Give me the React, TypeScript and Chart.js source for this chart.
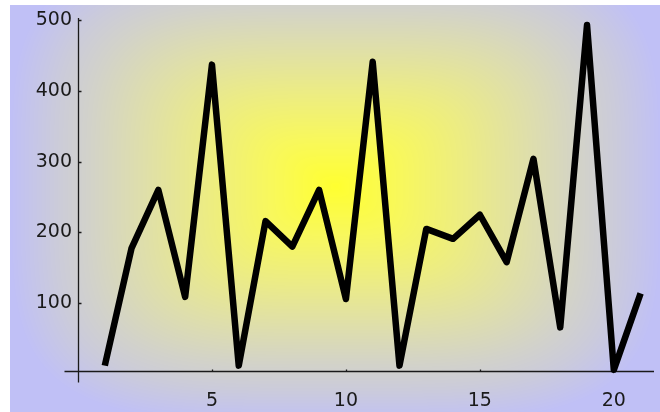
import React, { useEffect, useRef } from 'react';
import { Chart, registerables } from 'chart.js';

Chart.register(...registerables);

const xValues = [1, 2, 3, 4, 5, 6, 7, 8, 9, 10, 11, 12, 13, 14, 15, 16, 17, 18, 19, 20, 21];
const yValues = [12, 178, 260, 109, 437, 12, 216, 180, 260, 106, 441, 12, 205, 191, 225, 158, 304, 66, 493, 6, 114];
const xTickValues = [5, 10, 15, 20];
const yTickValues = [100, 200, 300, 400, 500];

const X_MIN = 0;
const X_MAX = 21.5;
const Y_MIN = 4.4;
const Y_MAX = 502.8;

const bgStops: [number, number, number, number][] = [
  [0, 255, 255, 48],
  [0.2, 248, 248, 92],
  [0.4, 236, 236, 132],
  [0.6, 222, 222, 172],
  [0.76, 210, 210, 202],
  [0.86, 203, 203, 218],
  [1.0, 192, 192, 246],
];

function bgColor(d: number): [number, number, number] {
  if (d <= 0) return [bgStops[0][1], bgStops[0][2], bgStops[0][3]];
  for (let i = 1; i < bgStops.length; i++) {
    const a = bgStops[i - 1];
    const b = bgStops[i];
    if (d <= b[0]) {
      const t = (d - a[0]) / (b[0] - a[0]);
      return [a[1] + (b[1] - a[1]) * t, a[2] + (b[2] - a[2]) * t, a[3] + (b[3] - a[3]) * t];
    }
  }
  const l = bgStops[bgStops.length - 1];
  return [l[1], l[2], l[3]];
}

let bgCache: HTMLCanvasElement | null = null;

function buildBackground(w: number, h: number) {
  const c = document.createElement('canvas');
  c.width = w;
  c.height = h;
  const cx = c.getContext('2d')!;
  const img = cx.createImageData(w, h);
  const centerX = 335;
  const centerY = 186;
  const rx = 325;
  const ry = 236;
  const p = 4;
  for (let y = 0; y < h; y++) {
    for (let x = 0; x < w; x++) {
      const i = (y * w + x) * 4;
      if (x < 10 || y < 5) {
        img.data[i] = 255;
        img.data[i + 1] = 255;
        img.data[i + 2] = 255;
        img.data[i + 3] = 255;
        continue;
      }
      const dx = Math.abs(x - centerX) / rx;
      const dy = Math.abs(y - centerY) / ry;
      const d = Math.pow(Math.pow(dx, p) + Math.pow(dy, p), 1 / p);
      const col = bgColor(d);
      img.data[i] = col[0];
      img.data[i + 1] = col[1];
      img.data[i + 2] = col[2];
      img.data[i + 3] = 255;
    }
  }
  cx.putImageData(img, 0, 0);
  return c;
}

const backgroundPlugin = {
  id: 'bgGradient',
  beforeDraw(chart: any) {
    const { ctx, width, height } = chart;
    if (!bgCache || bgCache.width !== width || bgCache.height !== height) {
      bgCache = buildBackground(width, height);
    }
    ctx.save();
    ctx.drawImage(bgCache, 0, 0);
    ctx.restore();
  },
};

const axesPlugin = {
  id: 'axesLines',
  beforeDatasetsDraw(chart: any) {
    const { ctx, scales } = chart;
    const xs = scales.x;
    const ys = scales.y;
    const x0 = Math.round(xs.getPixelForValue(X_MIN)) + 0.5;
    const y0 = Math.round(ys.getPixelForValue(Y_MIN)) + 0.5;
    const xEnd = xs.getPixelForValue(X_MAX);
    const yTop = ys.getPixelForValue(Y_MAX);
    ctx.save();
    ctx.strokeStyle = '#1a1a1a';
    ctx.lineWidth = 1.3;
    ctx.beginPath();
    ctx.moveTo(x0 - 14, y0);
    ctx.lineTo(xEnd, y0);
    ctx.moveTo(x0, yTop);
    ctx.lineTo(x0, y0 + 11);
    for (const t of yTickValues) {
      const py = Math.round(ys.getPixelForValue(t)) + 0.5;
      ctx.moveTo(x0, py);
      ctx.lineTo(x0 + 3, py);
    }
    for (const t of xTickValues) {
      const px = Math.round(xs.getPixelForValue(t)) + 0.5;
      ctx.moveTo(px, y0);
      ctx.lineTo(px, y0 - 2);
    }
    ctx.stroke();
    ctx.restore();
  },
};

export default function App() {
  const canvasRef = useRef<HTMLCanvasElement>(null);

  useEffect(() => {
    if (!canvasRef.current) return;
    const font = { family: "'DejaVu Sans', sans-serif", size: 19 };
    const chart = new Chart(canvasRef.current, {
      type: 'line',
      data: {
        datasets: [
          {
            data: xValues.map((x, i) => ({ x, y: yValues[i] })),
            borderColor: '#000000',
            borderWidth: 6.5,
            pointRadius: 0,
            tension: 0,
            borderJoinStyle: 'round',
            borderCapStyle: 'butt',
            clip: false as any,
          },
        ],
      },
      options: {
        animation: false,
        responsive: false,
        devicePixelRatio: 1,
        layout: { padding: { left: 0, right: 6, top: 18, bottom: 0 } },
        plugins: { legend: { display: false }, tooltip: { enabled: false } },
        scales: {
          x: {
            type: 'linear',
            min: X_MIN,
            max: X_MAX,
            grid: { display: false, drawTicks: false },
            border: { display: false },
            afterBuildTicks: (s: any) => {
              s.ticks = xTickValues.map((v) => ({ value: v }));
            },
            afterFit: (s: any) => {
              s.height = 41;
            },
            ticks: { font, color: '#1a1a1a', padding: 19, maxRotation: 0, autoSkip: false },
          },
          y: {
            type: 'linear',
            min: Y_MIN,
            max: Y_MAX,
            grid: { display: false, drawTicks: false },
            border: { display: false },
            afterBuildTicks: (s: any) => {
              s.ticks = yTickValues.map((v) => ({ value: v }));
            },
            afterFit: (s: any) => {
              s.width = 78;
            },
            ticks: { font, color: '#1a1a1a', padding: 6, autoSkip: false },
          },
        },
      },
      plugins: [backgroundPlugin, axesPlugin],
    });
    return () => chart.destroy();
  }, []);

  return (
    <div style={{ position: 'fixed', left: 0, top: 0, width: 660, height: 412 }}>
      <canvas ref={canvasRef} width={660} height={412} style={{ display: 'block' }} />
    </div>
  );
}
